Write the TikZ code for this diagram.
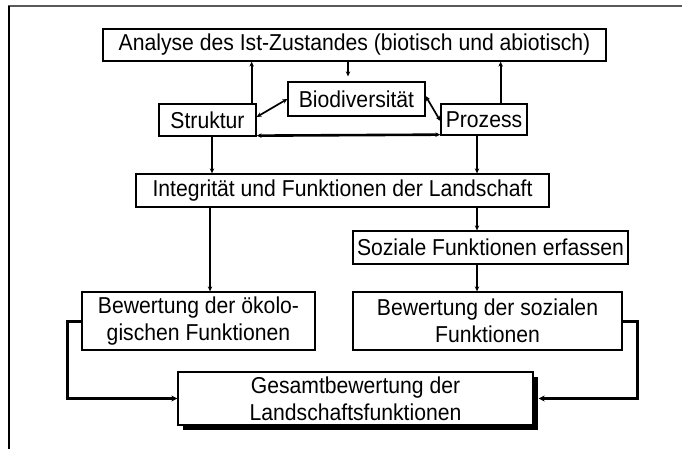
\documentclass[tikz,border=0pt]{standalone}
\usepackage{fontspec}
\setmainfont{Liberation Sans}[FakeStretch=0.92]
\usetikzlibrary{arrows.meta,calc}
\begin{document}
\begin{tikzpicture}[x=1pt,y=-1pt,
  box/.style={draw,line width=1.3pt,inner sep=0pt,align=center,font=\fontsize{23}{27}\selectfont},
  arr/.style={line width=1.7pt,-{Stealth[length=5pt,width=4.5pt]}},
  darr/.style={line width=1.7pt,{Stealth[length=5pt,width=4.5pt]}-{Stealth[length=5pt,width=4.5pt]}},
  thick3/.style={line width=3pt,-{Stealth[length=6pt,width=6pt]}}]
\useasboundingbox (0,0) rectangle (682,449);
% frame
\draw[gray!70!black,line width=1.5pt] (8,6) -- (682,6);
\draw[line width=1.2pt] (9,6) -- (9,449);
% nodes
\node[box,minimum width=503,minimum height=32] (top) at (354.5,45) {Analyse des Ist-Zustandes (biotisch und abiotisch)};
\node[box,minimum width=97,minimum height=32] (str) at (207.5,120) {Struktur};
\node[box,minimum width=137,minimum height=34] (bio) at (356.5,99) {Biodiversität};
\node[box,minimum width=86,minimum height=31] (pro) at (484,119.5) {Prozess};
\node[box,minimum width=413,minimum height=33] (int) at (342.5,190.5) {Integrität und Funktionen der Landschaft};
\node[box,minimum width=275,minimum height=33] (soz) at (490.5,247.5) {Soziale Funktionen erfassen};
\node[box,minimum width=233,minimum height=58] (oek) at (198.5,321) {Bewertung der ökolo-\\gischen Funktionen};
\node[box,minimum width=269,minimum height=58] (bsz) at (487.5,321) {Bewertung der sozialen\\Funktionen};
\fill (183,377) rectangle (538,430);
\node[box,fill=white,minimum width=355,minimum height=53] (ges) at (355.5,398.5) {Gesamtbewertung der\\Landschaftsfunktionen};
% coordinates
\coordinate (lx) at (67,0);
\coordinate (rx) at (637,0);
\coordinate (sn) at (477,231);
% connectors
\draw[arr] ([xshift=-5pt]str.north east) -- ([xshift=-5pt]str.north east |- top.south);
\draw[arr] ([xshift=-27pt]pro.north east) -- ([xshift=-27pt]pro.north east |- top.south);
\draw[arr,shorten >=5pt] ([xshift=-6.5pt]top.south) -- ([xshift=-6.5pt]top.south |- bio.north);
\draw[darr] ([yshift=3pt]str.east) -- (bio.west);
\draw[darr] ([yshift=3pt]bio.east) -- ([yshift=-1.5pt]pro.west);
\draw[darr,line width=2.6pt] ([yshift=1pt]str.south east) -- ([yshift=1pt]pro.south west);
\draw[arr] ([xshift=4.5pt]str.south) -- ([xshift=4.5pt]str.south |- int.north);
\draw[arr] ([xshift=-7pt]pro.south) -- ([xshift=-7pt]pro.south |- int.north);
\draw[arr] ([xshift=11.5pt]int.south -| oek.north) -- ([xshift=11.5pt]oek.north);
\draw[arr] (int.south -| sn) -- (sn |- soz.north);
\draw[arr] (sn |- soz.south) -- (sn |- bsz.north);
\draw[thick3] (oek.west) -- (oek.west -| lx) -- (ges.west -| lx) -- (ges.west);
\draw[thick3] (bsz.east) -- (bsz.east -| rx) -- (ges.east -| rx) -- ([xshift=5pt]ges.east);
\end{tikzpicture}
\end{document}
